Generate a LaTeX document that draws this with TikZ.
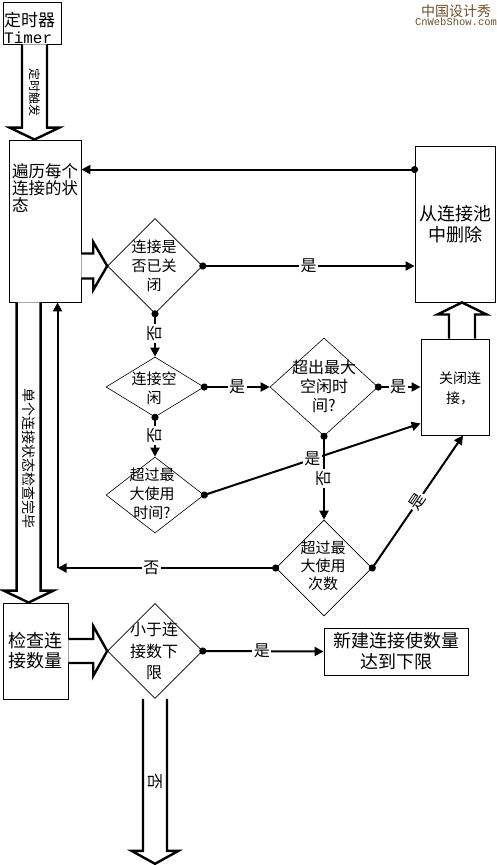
\documentclass[tikz,border=0pt]{standalone}
\usepackage{fontspec}
\setmainfont{Noto Sans CJK SC}
\newfontfamily\monofont{Liberation Mono}
\usetikzlibrary{shapes.geometric,arrows.meta,calc}
\definecolor{wmcol}{RGB}{110,80,40}
% #1 start, #2 end, #3 shaft half width, #4 head half width, #5 head length
\newcommand\blockarrow[5]{%
  \draw[blockar] let \p1=($(#2)-(#1)$), \n1={veclen(\x1,\y1)}, \n2={atan2(\y1,\x1)} in
    {[shift={(#1)},rotate=\n2]
     (0pt,-#3pt) -- (\n1-#5pt,-#3pt) -- (\n1-#5pt,-#4pt) -- (\n1,0pt) -- (\n1-#5pt,#4pt) -- (\n1-#5pt,#3pt) -- (0pt,#3pt)};
}
\begin{document}
\begin{tikzpicture}[x=1pt,y=-1pt,
  box/.style={draw, line width=0.9pt, inner sep=0pt, fill=white},
  dia/.style={diamond, draw, line width=0.6pt, inner sep=0pt},
  txt/.style={inner sep=0pt, align=center, font=\fontsize{15}{19}\selectfont},
  btxt/.style={inner sep=0pt, align=center, font=\fontsize{18}{21}\selectfont},
  conn/.style={line width=2pt, -{Triangle[length=9pt,width=9pt]}},
  dconn/.style={line width=2pt, {Circle[length=7pt]}-{Triangle[length=9pt,width=9pt]}, shorten <=-3.5pt},
  lab/.style={fill=white, inner sep=1.5pt, font=\fontsize{16}{16}\selectfont},
  blockar/.style={draw, line width=2.4pt, fill=white, line join=miter},
  artxt/.style={inner sep=0pt, rotate=-90, font=\fontsize{12}{12}\selectfont}
]
\useasboundingbox (0,0) rectangle (497,865);

% watermark
\node[inner sep=0pt, text=wmcol, font=\fontsize{14}{14}\selectfont] (wm1) at (456,11) {中国设计秀};
\node[inner sep=0pt, text=wmcol, font=\monofont\fontsize{10.5}{10.5}\selectfont] (wm2) at (456,22) {CnWebShow.com};

% boxes
\node[box, minimum width=58pt, minimum height=42pt] (timer) at (32,23) {};
\node[inner sep=0pt, align=left, anchor=west, font=\fontsize{17}{17}\selectfont] (timertxt) at (4,28) {定时器\\{\monofont\fontsize{16}{17}\selectfont Timer}};

\node[box, minimum width=72pt, minimum height=162pt] (loop) at (45,221) {};
\node[inner sep=0pt, align=left, anchor=north west, font=\fontsize{16.5}{17}\selectfont] (looptxt) at (12,163) {遍历每个\\连接的状\\态};

\node[box, minimum width=80pt, minimum height=156pt, btxt] (remove) at (455,224) {从连接池\\中删除};
\node[box, minimum width=68pt, minimum height=96pt] (close) at (455,387) {};
\node[inner sep=0pt, align=center, font=\fontsize{14}{20}\selectfont] (closetxt) at (460,388) {关闭连\\接，};
\node[box, minimum width=65pt, minimum height=96pt, btxt, font=\fontsize{18}{20}\selectfont] (check) at (35.5,651) {检查连\\接数量};
\node[box, minimum width=144pt, minimum height=47pt, btxt] (newconn) at (396,651.5) {新建连接使数量\\达到下限};

% diamonds
\node[dia, minimum width=95pt, minimum height=95pt] (d1) at (155,266) {};
\node[txt] (d1t) at (154,266) {连接是\\否已关\\闭};
\node[dia, minimum width=98pt, minimum height=60pt] (d2) at (155,387) {};
\node[txt] (d2t) at (154,388) {连接空\\闲};
\node[dia, minimum width=108pt, minimum height=98pt] (d3) at (324,387) {};
\node[txt, font=\fontsize{16}{19}\selectfont] (d3t) at (324,386) {超出最大\\空闲时\\间?};
\node[dia, minimum width=98pt, minimum height=76pt] (d4) at (155,495) {};
\node[txt] (d4t) at (152,494) {超过最\\大使用\\时间?};
\node[dia, minimum width=96pt, minimum height=96pt] (d5) at (324,568) {};
\node[txt, font=\fontsize{15}{18}\selectfont] (d5t) at (323,566) {超过最\\大使用\\次数};
\node[dia, minimum width=95pt, minimum height=95pt] (d6) at (155,651) {};
\node[txt, font=\fontsize{16}{21.5}\selectfont] (d6t) at (154,651) {小于连\\接数下\\限};

% block arrows
\coordinate (ta1) at ($(timer.south)+(2.5,0)$);
\coordinate (ta2) at (ta1 |- loop.north);
\blockarrow{ta1}{ta2}{12.5}{25}{12}
\node[artxt] (tat) at ($(ta1)!0.5!(ta2)$) {定时触发};

\coordinate (la1) at (loop.east |- d1.west);
\blockarrow{la1}{d1.west}{12.5}{24}{14}

\coordinate (lc1) at ($(loop.south west)+(20,0)$);
\coordinate (lc2) at (lc1 |- check.north);
\blockarrow{lc1}{lc2}{12}{25}{12}
\node[artxt, font=\fontsize{14}{14}\selectfont] (lct) at ($(lc1)!0.52!(lc2)$) {单个连接状态检查完毕};

\coordinate (cr1) at ($(close.north)+(7,0)$);
\coordinate (cr2) at (cr1 |- remove.south);
\blockarrow{cr1}{cr2}{13}{24.5}{12}

\coordinate (cd1) at (check.east |- d6.west);
\blockarrow{cd1}{d6.west}{12}{25}{14}

\coordinate (bt) at ($(d6.south)+(0,165)$);
\blockarrow{d6.south}{bt}{12}{23.5}{13}
\node[lab, fill=none, rotate=-90, inner sep=0pt] (btt) at ($(d6.south)!0.5!(bt)$) {否};

% connectors
\coordinate (r1) at ($(remove.north west)+(0,24)$);
\draw[dconn] (r1) -- (r1 -| loop.east);
\draw[dconn] (d1.east) -- node[lab, pos=.5] {是} (d1.east -| remove.west);
\draw[dconn] (d1.south) -- node[lab, pos=.45, rotate=90] {否} (d2.north);
\draw[dconn] (d2.east) -- node[lab, pos=.5] {是} (d3.west);
\draw[dconn] (d2.south) -- node[lab, pos=.45, rotate=90] {否} (d4.north);
\draw[dconn] (d3.east) -- node[lab, pos=.47] {是} (close.west);
\coordinate (c1) at ($(close.south west)+(0,-12)$);
\draw[dconn] (d4.east) -- node[lab, pos=.5] {是} (c1);
\draw[dconn] (d3.south) -- node[lab, pos=.5, rotate=90] {否} (d5.north);
\coordinate (c2) at ($(close.south)+(8,0)$);
\draw[dconn] (d5.east) -- node[lab, pos=.5, sloped] {是} (c2);
\coordinate (lb) at ($(loop.south west)+(49,0)$);
\coordinate (cr) at (lb |- d5.west);
\draw[dconn] (d5.west) -- node[lab, pos=.57] {否} (cr);
\draw[conn] (cr) -- (lb);
\draw[dconn] (d6.east) -- node[lab, pos=.49] {是} (newconn.west);
\end{tikzpicture}
\end{document}
